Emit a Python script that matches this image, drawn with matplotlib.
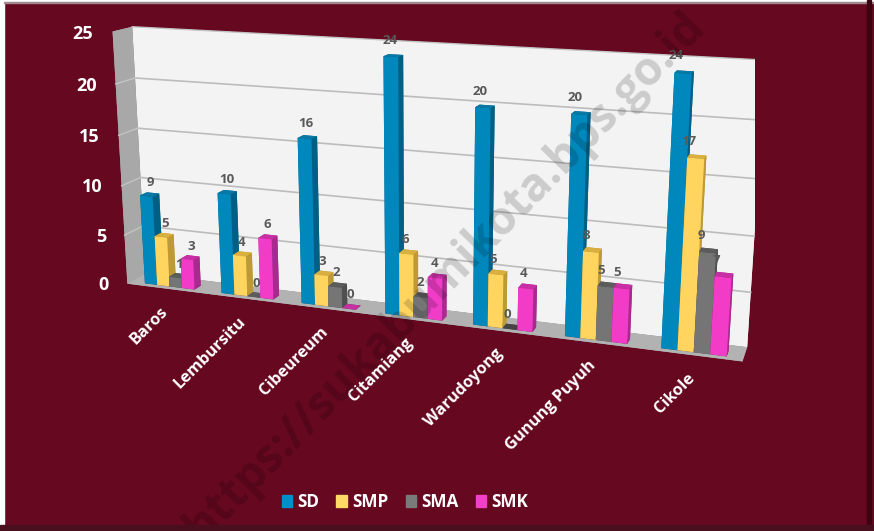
import matplotlib
matplotlib.use('Agg')
import matplotlib.pyplot as plt
from matplotlib.patches import Patch, Rectangle
from mpl_toolkits.mplot3d import proj3d

categories = ['Baros', 'Lembursitu', 'Cibeureum', 'Citamiang', 'Warudoyong', 'Gunung Puyuh', 'Cikole']
series_names = ['SD', 'SMP', 'SMA', 'SMK']
sd = [9, 10, 16, 24, 20, 20, 24]
smp = [5, 4, 3, 6, 5, 8, 17]
sma = [1, 0, 2, 2, 0, 5, 9]
smk = [3, 6, 0, 4, 4, 5, 7]
z_ticks = [0, 5, 10, 15, 20, 25]
watermark = 'https://sukabumikota.bps.go.id'

# front, side, top colour for each series
front_colors = ['#0088bd', '#ffd45f', '#757575', '#f23cc8']
side_colors = ['#005f85', '#bd9a35', '#4f4f4f', '#a92a8e']
top_colors = ['#0a78a5', '#d9b040', '#5c5c5c', '#c92fa5']
legend_colors = ['#0090c8', '#ffd966', '#7a7a7a', '#f040c8']
bg = '#660820'
font = 'Open Sans'

plt.rcParams['font.family'] = font
fig = plt.figure(figsize=(8.74, 5.31), dpi=100, facecolor=bg)
ax = fig.add_axes([59 / 874, -8.8 / 531, 695.7 / 874, 695.7 / 531], projection='3d')
ax.set_xlim(0, 7, view_margin=0)
ax.set_ylim(0, 1, view_margin=0)
ax.set_zlim(0, 25, view_margin=0)
ax.set_box_aspect((1, 0.0579, 0.4201))
ax.view_init(14.515, -69.987, 0.0757)
ax.set_proj_type('persp', focal_length=0.3541)
ax.set_axis_off()
ax.patch.set_visible(False)
ax.computed_zorder = False


def label(x, y, z, s, offset=(0, 0), **kwargs):
    # plain 2D text, Text3D throws away the rotation
    u, v, _ = proj3d.proj_transform(x, y, z, ax.get_proj())
    ax.annotate(s, (u, v), xytext=offset, textcoords='offset pixels', annotation_clip=False,
                fontweight='bold', zorder=500, **kwargs)


# walls and floor
ax.bar3d(0, 1, 0, 7, 0, 25, color='#f3f3f3', shade=False, zorder=1)
ax.bar3d(0, 0, 0, 0, 1, 25, color='#a8a8a8', shade=False, zorder=1)
ax.bar3d(0, 0, 0, 7, 1, 0, color='#b2b2b2', shade=False, zorder=1)
for t in z_ticks[1:-1]:
    ax.plot([0, 7], [1, 1], [t, t], color='#bcbcbc', lw=1.2, zorder=2)
    ax.plot([0, 0], [0, 1], [t, t], color='#c4c4c4', lw=1, zorder=2)
ax.plot([0, 7], [1, 1], [25, 25], color='#c4c4c4', lw=1, zorder=2)

width = 0.163
margin = 0.185
y0, y_depth = 0.2, 0.36
order = 10
for c in range(len(categories)):
    for s, values in enumerate([sd, smp, sma, smk]):
        v = values[c]
        x = c + margin + s * width
        colors = ['#444444', top_colors[s], front_colors[s], side_colors[s], side_colors[s], side_colors[s]]
        ax.bar3d(x, y0, 0, width, y_depth, v, color=colors, shade=False, zorder=order)
        order += 1
        # labels drift left of the bars towards the right of the chart
        label(x + width / 2 + 0.06 - 0.022 * c, y0, v + 1.4, str(v), color='#595959', fontsize=9.5,
              ha='center', va='center')
    label(c + 0.5, 0, 0, categories[c], offset=(-5, -15), color='white', fontsize=11.8, rotation=45,
          ha='right', va='top', rotation_mode='anchor')

for t in z_ticks:
    label(-0.25, 0, t - 0.35, str(t), color='white', fontsize=13, ha='right', va='center')

handles = [Patch(color=col, label=name) for col, name in zip(legend_colors, series_names)]
fig.legend(handles=handles, ncol=4, loc='center', bbox_to_anchor=(405 / 874, 1 - 502 / 531), frameon=False,
           labelcolor='white', handlelength=0.62, handleheight=0.62, handletextpad=0.3, columnspacing=1.0,
           prop={'family': font, 'weight': 'bold', 'size': 12.3})

fig.text(445 / 874, 1 - 277 / 531, watermark, color='black', alpha=0.16, fontsize=33, fontweight='bold',
         rotation=45.6, ha='center', va='center', rotation_mode='anchor', zorder=1000)

# frame of the pasted picture
fig.add_artist(Rectangle((0, 0), 4 / 874, 1, transform=fig.transFigure, color='white', zorder=1001))
fig.add_artist(Rectangle((0, 1 - 2 / 531), 1, 2 / 531, transform=fig.transFigure, color='white', zorder=1001))
fig.add_artist(Rectangle((4 / 874, 1 - 3 / 531), 870 / 874, 1 / 531, transform=fig.transFigure, color='#a08a90', zorder=1001))
fig.add_artist(Rectangle((867 / 874, 0), 4 / 874, 1, transform=fig.transFigure, color='#3c0412', zorder=1001))
fig.add_artist(Rectangle((0, 0), 1, 6 / 531, transform=fig.transFigure, color='#4a0f1e', zorder=1001))
fig.savefig('out.png', dpi=100)
